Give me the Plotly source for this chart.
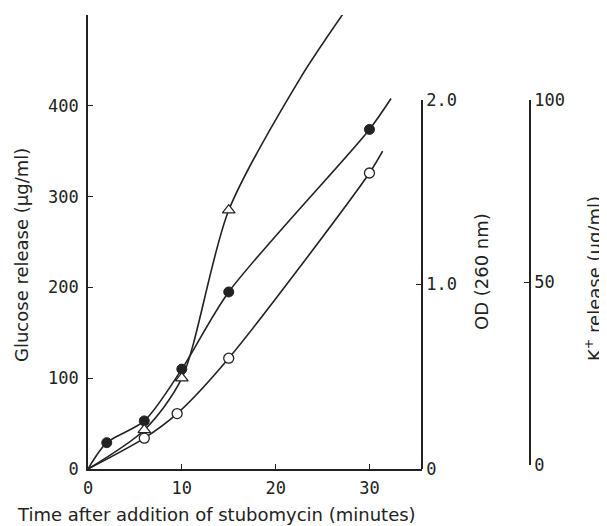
import plotly.graph_objects as go

# ---- data (glucose-axis units) ----
filled_x = [2, 6, 10, 15, 30]
filled_y = [29, 53, 110, 195, 374]
open_x = [6, 9.5, 15, 30]
open_y = [34, 61, 122, 326]
tri_x = [6, 10, 15]
tri_y = [43, 100, 285]

# drawn curves
filled_curve_x = [0, 2, 6, 10, 15, 30, 32.3]
filled_curve_y = [0, 29, 53, 110, 195, 374, 408]
open_curve_x = [0, 6, 9.5, 15, 30, 31.4]
open_curve_y = [0, 34, 61, 122, 326, 350]
tri_curve_x = [0, 6, 10, 15, 22.6, 27.3]
tri_curve_y = [0, 43, 100, 285, 430, 503]

x_ticks = [0, 10, 20, 30]
glu_ticks = [0, 100, 200, 300, 400]
od_ticks = [0, 1.0, 2.0]
od_labels = ["0", "1.0", "2.0"]
k_ticks = [0, 50, 100]

# page body has an 8px margin; the figure is sized so it fits the 607x526 window
OFF = 8
W, H = 607 - OFF, 526 - OFF
L, T = 88 - OFF, 15 - OFF
R = W - (560 - OFF)
B = H - (469 - OFF)
PW = W - L - R
PH = H - T - B
def px(x):  # screen x -> paper
    return (x - OFF - L) / PW
def py(y):  # screen y -> paper
    return (H - B - (y - OFF)) / PH

TICKFONT = dict(family="DejaVu Sans Mono", size=17, color="#222")
TITLEFONT = dict(family="DejaVu Sans", size=18, color="#222")
LC = "#222"

fig = go.Figure()
for cx, cy in [(filled_curve_x, filled_curve_y), (open_curve_x, open_curve_y), (tri_curve_x, tri_curve_y)]:
    fig.add_trace(go.Scatter(x=cx, y=cy, mode="lines", line=dict(color=LC, width=1.6, shape="spline", smoothing=0.8),
                             showlegend=False, hoverinfo="skip"))
fig.add_trace(go.Scatter(x=filled_x, y=filled_y, mode="markers", showlegend=False,
                         marker=dict(symbol="circle", size=10, color=LC, line=dict(color=LC, width=1))))
fig.add_trace(go.Scatter(x=open_x, y=open_y, mode="markers", showlegend=False,
                         marker=dict(symbol="circle", size=10, color="white", line=dict(color=LC, width=1.3))))
fig.add_trace(go.Scatter(x=tri_x, y=tri_y, mode="markers", showlegend=False,
                         marker=dict(symbol="triangle-up", size=11, color="white", line=dict(color=LC, width=1.3))))
fig.add_trace(go.Scatter(x=[None], y=[None], yaxis="y2", showlegend=False, hoverinfo="skip"))
fig.add_trace(go.Scatter(x=[None], y=[None], yaxis="y3", showlegend=False, hoverinfo="skip"))

common = dict(ticks="inside", ticklen=5, tickcolor=LC, tickwidth=1.4, showline=True, linecolor=LC,
              linewidth=1.6, showgrid=False, zeroline=False, tickfont=TICKFONT, automargin=False)

fig.update_layout(
    width=W, height=H, margin=dict(l=L, r=R, t=T, b=B, autoexpand=False),
    paper_bgcolor="white", plot_bgcolor="rgba(0,0,0,0)", showlegend=False,
    xaxis=dict(domain=[0, px(422)], range=[0, 35.6], tickvals=x_ticks, anchor="y", ticklabelstandoff=3, **common),
    yaxis=dict(domain=[0, 1], range=[0, 500], tickvals=glu_ticks, anchor="x", ticklabelstandoff=4, **common),
    yaxis2=dict(domain=[0, py(100)], range=[0, 2.0], tickvals=od_ticks, ticktext=od_labels,
                anchor="free", position=px(422), side="right", **common),
    yaxis3=dict(domain=[py(465), py(100)], range=[0, 100], tickvals=k_ticks,
                anchor="free", position=px(530), side="right", **common),
)

fig.add_annotation(text="Glucose release (μg/ml)", xref="paper", yref="paper", x=px(21), y=py(255),
                   textangle=-90, showarrow=False, font=TITLEFONT, xanchor="center", yanchor="middle")
fig.add_annotation(text="OD (260 nm)", xref="paper", yref="paper", x=px(481), y=py(272),
                   textangle=-90, showarrow=False, font=TITLEFONT, xanchor="center", yanchor="middle")
fig.add_annotation(text="K<sup>+</sup> release (μg/ml)", xref="paper", yref="paper", x=px(593), y=py(279),
                   textangle=-90, showarrow=False, font=TITLEFONT, xanchor="center", yanchor="middle")
fig.add_annotation(text="Time after addition of stubomycin (minutes)", xref="paper", yref="paper",
                   x=px(216), y=py(515), showarrow=False, font=TITLEFONT, xanchor="center", yanchor="middle")

fig.write_html("out.html")
